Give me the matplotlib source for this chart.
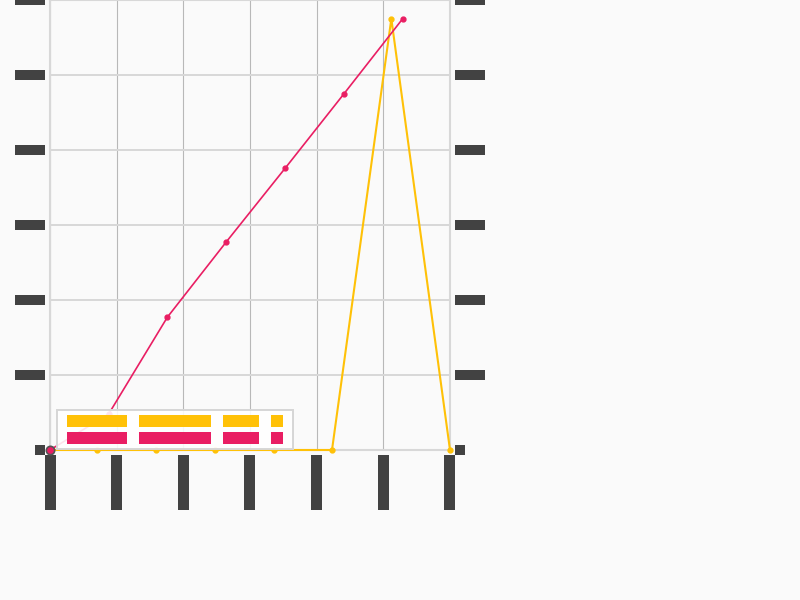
import matplotlib
matplotlib.use('Agg')
import matplotlib.pyplot as plt
from matplotlib.path import Path
from matplotlib.patches import Rectangle

# dane
x_ticks = [0, 1, 2, 3, 4, 5, 6]
x_labels = ['03-01', '03-02', '03-03', '03-04', '03-05', '03-06', '03-07']
y_ticks = [0, 100, 200, 300, 400, 500, 600]
y_labels = ['0', '100', '200', '300', '400', '500', '600']

x_zolty = [0, 0.705, 1.59, 2.47, 3.36, 4.23, 5.12, 6.0]
y_zolty = [0, 0, 0, 0, 0, 0, 575, 0]
x_rozowy = [0, 0.88, 1.76, 2.64, 3.53, 4.41, 5.29]
y_rozowy = [0, 48, 177, 277, 376, 475, 575]

etykieta_zolty = 'Total demand for A'
etykieta_rozowy = 'Total demand for B'

ZOLTY = '#FFC107'
ROZOWY = '#E91E63'
CIEMNY = '#424242'
TLO = '#fafafa'


def blok(n, cw, ch, align):
    # prostokat zamiast tekstu, n znakow po cw pikseli
    def styl(x0, y0, width, height, mutation_size):
        dl = n * cw
        if align == 'end':
            lewo = x0 + width - dl
        elif align == 'start':
            lewo = x0
        else:
            lewo = x0 + (width - dl) / 2
        dol = y0 + height / 2 - ch / 2
        return Path([(lewo, dol), (lewo + dl, dol), (lewo + dl, dol + ch),
                     (lewo, dol + ch), (lewo, dol)], closed=True)
    return styl


def zablokuj(txt, cw, ch, kolor, align):
    txt.set_color(kolor)
    txt.set_bbox(dict(boxstyle=blok(len(txt.get_text()), cw, ch, align),
                      fc=kolor, ec='none'))


fig = plt.figure(figsize=(8, 6), dpi=100, facecolor=TLO)
ax = fig.add_axes([50 / 800, 150 / 600, 400 / 800, 450 / 600], facecolor=TLO)

ax.plot(x_zolty, y_zolty, color=ZOLTY, lw=1.5, marker='o', markersize=3.5,
        zorder=3, clip_on=False)
ax.plot(x_rozowy, y_rozowy, color=ROZOWY, lw=1.2, marker='o', markersize=3.5,
        zorder=4, clip_on=False)
ax.plot(x_rozowy[:1], y_rozowy[:1], 'o', color=ROZOWY, mec='#555555', mew=1.2,
        markersize=6, zorder=5, clip_on=False)

ax.set_xlim(0, 6)
ax.set_ylim(0, 600)
ax.set_xticks(x_ticks, labels=x_labels)
ax.set_yticks(y_ticks, labels=y_labels)

ax.grid(axis='x', color='#b8b8b8', lw=0.8)
ax.grid(axis='y', color='#d8d8d8', lw=1.4)
ax.set_axisbelow(True)
for s in ax.spines.values():
    s.set_color('#d8d8d8')
    s.set_linewidth(1.5)
    s.set_zorder(1.5)

ax.tick_params(axis='both', length=0)
ax.tick_params(axis='y', pad=3.6, labelright=True, labelsize=6.5)
ax.tick_params(axis='x', pad=3.6, labelrotation=90, labelsize=7)

for t in ax.yaxis.get_major_ticks():
    t.label1.set_family('DejaVu Sans Mono')
    t.label2.set_family('DejaVu Sans Mono')
    t.label1.set_va('center')
    t.label2.set_va('center')
    zablokuj(t.label1, 10, 10, CIEMNY, 'end')
    zablokuj(t.label2, 10, 10, CIEMNY, 'start')
for t in ax.xaxis.get_major_ticks():
    t.label1.set_family('DejaVu Sans Mono')
    zablokuj(t.label1, 11, 11, CIEMNY, 'end')

# legenda
ax.add_patch(Rectangle((7 / 400, 1 / 450), 236 / 400, 39 / 450, transform=ax.transAxes,
                       fc='white', alpha=0.88, ec='none', zorder=6, clip_on=False))
ax.add_patch(Rectangle((7 / 400, 1 / 450), 236 / 400, 39 / 450, transform=ax.transAxes,
                       fc='none', ec='#d6d6d6', lw=1.4, zorder=6, clip_on=False))
starty = [67, 139, 223, 271]
for etykieta, kolor, wiersz in [(etykieta_zolty, ZOLTY, 421), (etykieta_rozowy, ROZOWY, 438)]:
    for slowo, px in zip(etykieta.split(), starty):
        t = ax.text((px - 50) / 400, (450 - wiersz) / 450, slowo, transform=ax.transAxes,
                    ha='left', va='center', fontsize=8, family='DejaVu Sans Mono', zorder=7)
        zablokuj(t, 12, 12, kolor, 'start')

fig.savefig('out.png', dpi=100, facecolor=TLO)
